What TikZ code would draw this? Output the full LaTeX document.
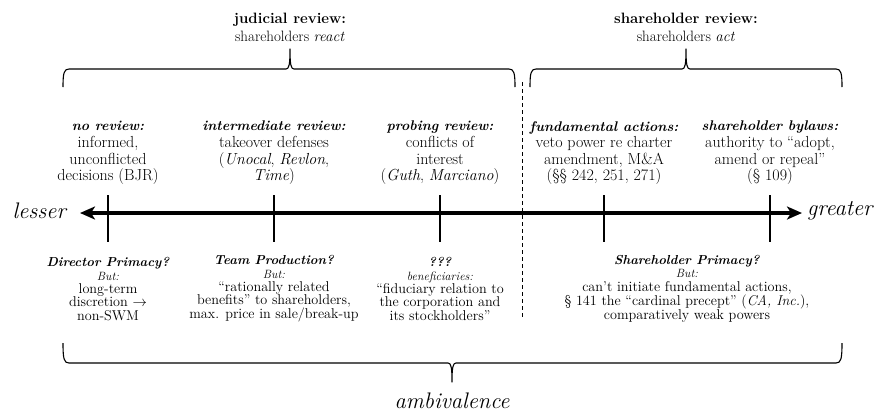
\documentclass[tikz,border=0pt]{standalone}
\usepackage{fontspec}
\usetikzlibrary{arrows.meta}
\tikzset{
  topblock/.style={align=center, inner sep=0pt, font=\fontsize{16}{16.6}\selectfont},
  botblock/.style={align=center, inner sep=0pt, font=\fontsize{14.2}{13.3}\selectfont},
  toplabel/.style={align=center, inner sep=0pt, font=\fontsize{15}{18}\selectfont},
  endword/.style={inner sep=0pt, font=\fontsize{22.5}{24}\selectfont\itshape},
  bracestyle/.style={line width=1.1pt, line join=round},
  tickline/.style={line width=1.1pt},
  axisline/.style={line width=3.6pt, {Stealth[length=15pt,width=13pt,inset=4pt]}-{Stealth[length=15pt,width=13pt,inset=4pt]}},
  divider/.style={line width=1pt, dash pattern=on 4pt off 3pt}
}
\newcommand{\hd}[1]{{\fontsize{14}{16.6}\selectfont\textbf{\textit{#1}}}}
\newcommand{\bhd}[1]{{\fontsize{13}{13.3}\selectfont\textbf{\textit{#1}}}}
\newcommand{\sm}[1]{{\fontsize{12}{13.3}\selectfont\itshape #1}}
\begin{document}
\begin{tikzpicture}[x=1pt,y=-1pt]
\useasboundingbox (0,0) rectangle (883,413);

% top labels
\node[toplabel] (jr) at (290,27) {\textbf{judicial review:}\\shareholders \textit{react}};
\node[toplabel] (sr) at (686,27) {\textbf{shareholder review:}\\shareholders \textit{act}};

% top braces
\draw[bracestyle] (63,87) .. controls (63,73) and (64,69) .. (69,69) -- (286,69)
  .. controls (289,69) and (290,65) .. (290,49) .. controls (290,65) and (291,69) .. (294,69)
  -- (509,69) .. controls (514,69) and (515,73) .. (515,87);
\draw[bracestyle] (530,87) .. controls (530,73) and (531,69) .. (536,69) -- (682,69)
  .. controls (685,69) and (686,65) .. (686,49) .. controls (686,65) and (687,69) .. (690,69)
  -- (836,69) .. controls (841,69) and (842,73) .. (842,87);

% divider
\coordinate (dtop) at (522,82);
\coordinate (dbot) at (522,318);
\draw[divider] (dtop) -- (dbot);

% axis
\coordinate (aL) at (80,213);
\coordinate (aR) at (802,213);
\draw[axisline] (aL) -- (aR);
\node[endword, anchor=east] (lesser) at (66,211) {lesser};
\node[endword, anchor=west] (greater) at (807,211) {greater};

% ticks
\foreach \i/\x in {1/108,2/274,3/440,4/604,5/770}{
  \coordinate (t\i a) at (\x,195);
  \coordinate (t\i b) at (\x,242);
  \draw[tickline] (t\i a) -- (t\i b);
}

% top blocks
\node[topblock] (b1) at (108,153) {\hd{no review:}\\informed,\\unconflicted\\decisions (BJR)};
\node[topblock] (b2) at (274,153) {\hd{intermediate review:}\\takeover defenses\\(\textit{Unocal}, \textit{Revlon},\\\textit{Time})};
\node[topblock] (b3) at (440,153) {\hd{probing review:}\\conflicts of\\interest\\(\textit{Guth}, \textit{Marciano})};
\node[topblock] (b4) at (604,153) {\hd{fundamental actions:}\\veto power re charter\\amendment, M\&A\\(§§ 242, 251, 271)};
\node[topblock] (b5) at (770,153) {\hd{shareholder bylaws:}\\authority to “adopt,\\amend or repeal”\\(§ 109)};

% bottom blocks
\node[botblock] (c1) at (108,289) {\bhd{Director Primacy?}\\\sm{But:}\\long-term\\discretion $\rightarrow$\\non-SWM};
\node[botblock] (c2) at (274,289) {\bhd{Team Production?}\\\sm{But:}\\“rationally related\\benefits” to shareholders,\\max. price in sale/break-up};
\node[botblock] (c3) at (440,289) {\bhd{???}\\\sm{beneficiaries:}\\“fiduciary relation to\\the corporation and\\its stockholders”};
\node[botblock] (c4) at (687,289) {\bhd{Shareholder Primacy?}\\\sm{But:}\\can’t initiate fundamental actions,\\§ 141 the “cardinal precept” (\textit{CA, Inc.}),\\comparatively weak powers};

% bottom brace
\draw[bracestyle] (63,343) .. controls (63,359) and (64,363) .. (69,363) -- (448,363)
  .. controls (451,363) and (452,367) .. (452,382) .. controls (452,367) and (453,363) .. (456,363)
  -- (836,363) .. controls (841,363) and (842,359) .. (842,343);
\node[endword] (amb) at (452,401) {ambivalence};
\end{tikzpicture}
\end{document}
